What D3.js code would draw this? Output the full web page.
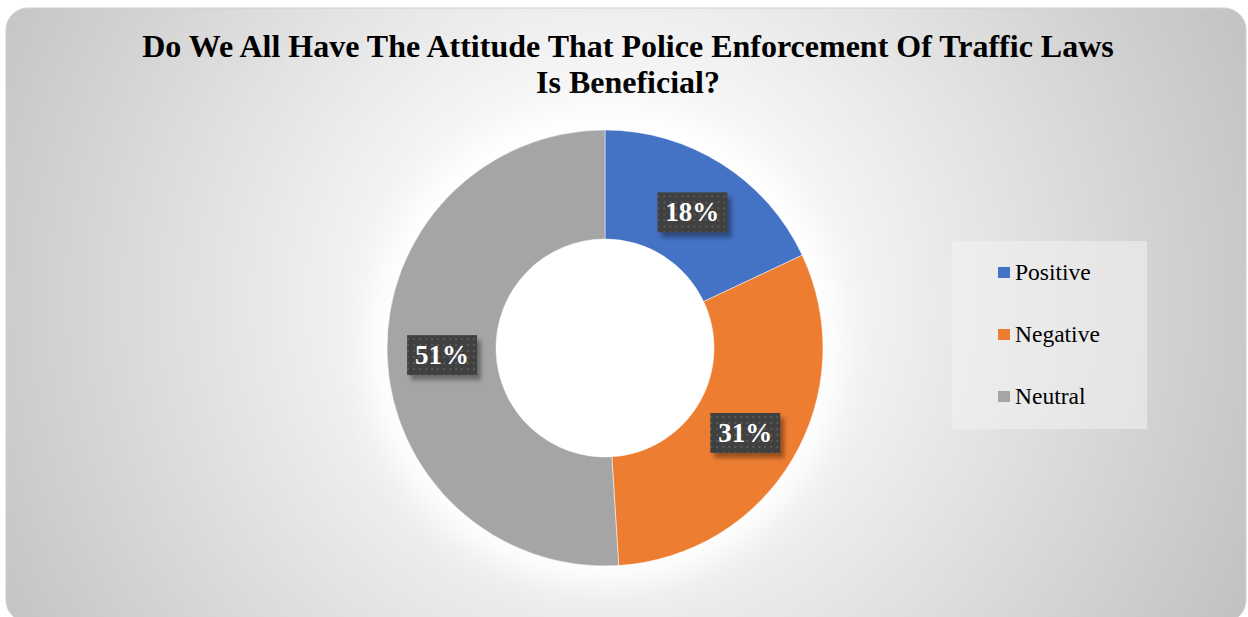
<!DOCTYPE html>
<head>
    <meta charset="utf-8">
    <script src="https://d3js.org/d3.v7.min.js"></script>
    <style>
        body { margin: 0; background: #fff; }
        .canvas text { font-family: "Liberation Serif", "Times New Roman", serif; }
        .canvas .title { font-weight: bold; font-size: 32px; fill: #000; text-anchor: middle; }
        .canvas .lbl { font-weight: bold; font-size: 27px; fill: #fff; text-anchor: middle; }
        .canvas .leg text { font-size: 23.5px; fill: #000; }
    </style>
</head>
<body>
<div id="chart"></div>
<script>
    // dados ------------------------------------------------------------
    var categorias = ["Positive", "Negative", "Neutral"];
    var valores = [18, 31, 51];
    var cores = ["#4472c4", "#ed7d31", "#a5a5a5"];
    var titulo = ["Do We All Have The Attitude That Police Enforcement Of Traffic Laws", "Is Beneficial?"];

    var width = 1248, height = 617;
    var cx = 605, cy = 348;
    var rOut = 218, rIn = 109;

    var svg = d3.select('#chart')
        .append('svg')
        .attr('class', 'canvas')
        .attr('width', width)
        .attr('height', height);

    var defs = svg.append('defs');

    var bg = defs.append('radialGradient')
        .attr('id', 'bg')
        .attr('gradientUnits', 'userSpaceOnUse')
        .attr('cx', 610).attr('cy', 300).attr('r', 700);
    bg.append('stop').attr('offset', '0%').attr('stop-color', '#ffffff');
    bg.append('stop').attr('offset', '25%').attr('stop-color', '#fbfbfb');
    bg.append('stop').attr('offset', '100%').attr('stop-color', '#c2c2c2');

    // padrao pontilhado das etiquetas
    var pat = defs.append('pattern')
        .attr('id', 'dots')
        .attr('patternUnits', 'userSpaceOnUse')
        .attr('width', 6).attr('height', 6);
    pat.append('rect').attr('width', 6).attr('height', 6).attr('fill', '#404040');
    pat.append('rect').attr('x', 1).attr('y', 1).attr('width', 2).attr('height', 2).attr('fill', '#595959');

    var glow = defs.append('filter').attr('id', 'glow')
        .attr('x', '-30%').attr('y', '-30%').attr('width', '160%').attr('height', '160%');
    glow.append('feGaussianBlur').attr('stdDeviation', 16);

    var sombra = defs.append('filter').attr('id', 'sombra')
        .attr('x', '-30%').attr('y', '-30%').attr('width', '160%').attr('height', '160%');
    sombra.append('feGaussianBlur').attr('stdDeviation', 2);

    // fundo --------------------------------------------------------------
    svg.append('rect')
        .attr('x', 6).attr('y', 8)
        .attr('width', 1240).attr('height', 614)
        .attr('rx', 22).attr('ry', 22)
        .attr('fill', 'url(#bg)')
        .attr('stroke', '#d0d0d0');

    // titulo
    svg.append('text')
        .attr('class', 'title')
        .selectAll('tspan')
        .data(titulo)
        .enter()
        .append('tspan')
        .attr('x', 628)
        .attr('y', function(d, i) { return 57 + i * 36; })
        .text(function(d) { return d; });

    // brilho branco atras do anel
    svg.append('circle')
        .attr('cx', cx).attr('cy', cy).attr('r', rOut + 18)
        .attr('fill', '#ffffff')
        .attr('filter', 'url(#glow)');

    // o anel ---------------------------------------------------------------
    var pie = d3.pie().sort(null).value(function(d) { return d; });
    var arcos = pie(valores);

    var arc = d3.arc().innerRadius(rIn).outerRadius(rOut);
    var arcLbl = d3.arc().innerRadius(163).outerRadius(163);

    var g = svg.append('g')
        .attr('transform', 'translate(' + cx + ',' + cy + ')');

    g.selectAll('path')
        .data(arcos)
        .enter()
        .append('path')
        .attr('fill', function(d, i) { return cores[i]; })
        .attr('stroke', '#ffffff')
        .attr('stroke-width', 0.5)
        .attr('d', arc);

    // etiquetas
    var bw = 70, bh = 40;
    var lg = g.selectAll('g.lbl')
        .data(arcos)
        .enter()
        .append('g')
        .attr('transform', function(d) {
            var c = arcLbl.centroid(d);
            return 'translate(' + c[0] + ',' + (c[1] + 2) + ')';
        });

    lg.append('rect')
        .attr('x', -bw / 2 + 4).attr('y', -bh / 2 + 5)
        .attr('width', bw).attr('height', bh)
        .attr('fill', '#000').attr('opacity', 0.35)
        .attr('filter', 'url(#sombra)');

    lg.append('rect')
        .attr('x', -bw / 2).attr('y', -bh / 2)
        .attr('width', bw).attr('height', bh)
        .attr('fill', 'url(#dots)');

    lg.append('text')
        .attr('class', 'lbl')
        .attr('y', 9)
        .text(function(d) { return d.data + '%'; });

    // legenda -------------------------------------------------------------
    svg.append('rect')
        .attr('x', 952).attr('y', 241)
        .attr('width', 195).attr('height', 188)
        .attr('fill', '#f2f2f2').attr('opacity', 0.55);

    var y = d3.scalePoint().domain(categorias).range([272, 396]);

    var leg = svg.append('g').attr('class', 'leg')
        .selectAll('g')
        .data(categorias)
        .enter()
        .append('g')
        .attr('transform', function(d) { return 'translate(998,' + y(d) + ')'; });

    leg.append('rect')
        .attr('x', 0).attr('y', -5)
        .attr('width', 12).attr('height', 11)
        .attr('fill', function(d, i) { return cores[i]; });

    leg.append('text')
        .attr('x', 17).attr('y', 8)
        .text(function(d) { return d; });
</script>
</body>
